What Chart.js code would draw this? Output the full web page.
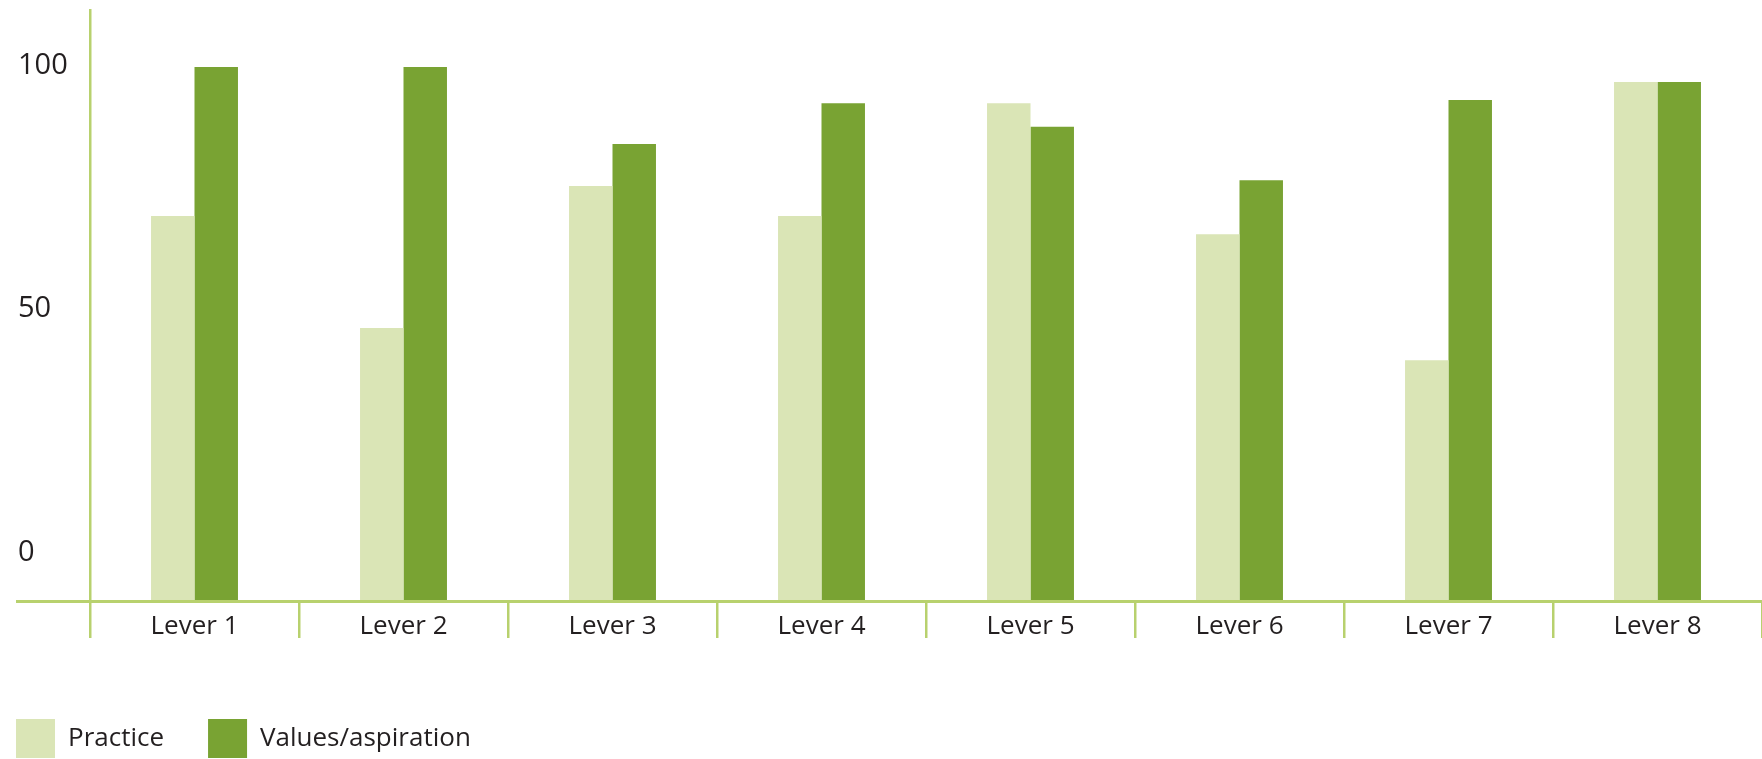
<!DOCTYPE html>
<html>
<head>
<meta charset="utf-8">
<title>Practice vs values/aspiration</title>
<script src="https://cdn.jsdelivr.net/npm/chart.js@4/dist/chart.umd.min.js"></script>
<style>
  html, body { margin: 0; padding: 0; background: #ffffff; }
  #chart { display: block; }
</style>
</head>
<body>
<canvas id="chart" width="1762" height="759"></canvas>
<script>
var categories = ['Lever 1', 'Lever 2', 'Lever 3', 'Lever 4', 'Lever 5', 'Lever 6', 'Lever 7', 'Lever 8'];
var practice = [72.1, 51.1, 77.7, 72.1, 93.2, 68.7, 45.1, 97.2];
var aspiration = [100, 100, 85.6, 93.2, 88.8, 78.8, 93.8, 97.2];
var yTickLabels = [0, 50, 100];

var LIGHT_GREEN = '#dae5b6';
var DARK_GREEN = '#79a333';
var AXIS_GREEN = '#b8d16e';
var TEXT_COLOR = '#231f20';

// the printed 0/50/100 labels do not sit on the data scale, so they get their own axis
var LABEL_MIN = -10;
var LABEL_MAX = 111.5;
var LEGEND_LEFT = 16;

Chart.defaults.font.family = "'Open Sans', 'Noto Sans', sans-serif";
Chart.defaults.color = TEXT_COLOR;

var legendShift = {
  id: 'legendShift',
  afterLayout: function (chart) {
    var legend = chart.legend;
    var shift = LEGEND_LEFT - (legend.left + legend.options.labels.padding);
    legend.left += shift;
    legend.right += shift;
  }
};

var ctx = document.getElementById('chart').getContext('2d');

var chart = new Chart(ctx, {
  type: 'bar',
  data: {
    labels: categories,
    datasets: [
      {
        label: 'Practice',
        data: practice,
        backgroundColor: LIGHT_GREEN,
        borderWidth: 0,
        yAxisID: 'y'
      },
      {
        label: 'Values/aspiration',
        data: aspiration,
        backgroundColor: DARK_GREEN,
        borderWidth: 0,
        yAxisID: 'y'
      }
    ]
  },
  options: {
    responsive: false,
    animation: false,
    layout: {
      padding: { top: 10, left: 18, right: 0, bottom: 0 }
    },
    datasets: {
      bar: {
        categoryPercentage: 0.416,
        barPercentage: 1.0
      }
    },
    plugins: {
      tooltip: { enabled: false },
      legend: {
        position: 'bottom',
        align: 'start',
        maxHeight: 84,
        labels: {
          boxWidth: 39,
          boxHeight: 39,
          padding: 44,
          color: TEXT_COLOR,
          font: { size: 26 }
        }
      }
    },
    scales: {
      x: {
        offset: true,
        afterFit: function (scale) {
          scale.height = 74;
        },
        border: { display: true, color: AXIS_GREEN, width: 3, z: 1 },
        grid: {
          offset: true,
          drawOnChartArea: false,
          drawTicks: true,
          tickLength: 37,
          lineWidth: 2.5,
          tickColor: function (c) {
            return c.index === categories.length ? 'rgba(0,0,0,0)' : AXIS_GREEN;
          }
        },
        ticks: {
          padding: -27,
          color: TEXT_COLOR,
          font: { size: 26 },
          maxRotation: 0,
          autoSkip: false
        }
      },
      y: {
        display: false,
        min: 0,
        max: 110.67
      },
      yl: {
        position: 'left',
        min: LABEL_MIN,
        max: LABEL_MAX,
        afterFit: function (scale) {
          scale.width = 72;
          scale.paddingTop = 0;
          scale.paddingBottom = 0;
        },
        afterBuildTicks: function (scale) {
          var ticks = [{ value: LABEL_MIN }];
          yTickLabels.forEach(function (v) {
            ticks.push({ value: v });
          });
          scale.ticks = ticks;
        },
        border: { display: true, color: AXIS_GREEN, width: 2.5 },
        grid: {
          drawOnChartArea: false,
          drawTicks: true,
          tickLength: 74,
          lineWidth: 3,
          tickColor: function (c) {
            return c.tick && c.tick.value === LABEL_MIN ? AXIS_GREEN : 'rgba(0,0,0,0)';
          }
        },
        ticks: {
          crossAlign: 'far',
          color: TEXT_COLOR,
          font: { size: 29 },
          callback: function (value) {
            return value === LABEL_MIN ? '' : String(value);
          }
        }
      }
    }
  },
  plugins: [legendShift]
});
</script>
</body>
</html>
